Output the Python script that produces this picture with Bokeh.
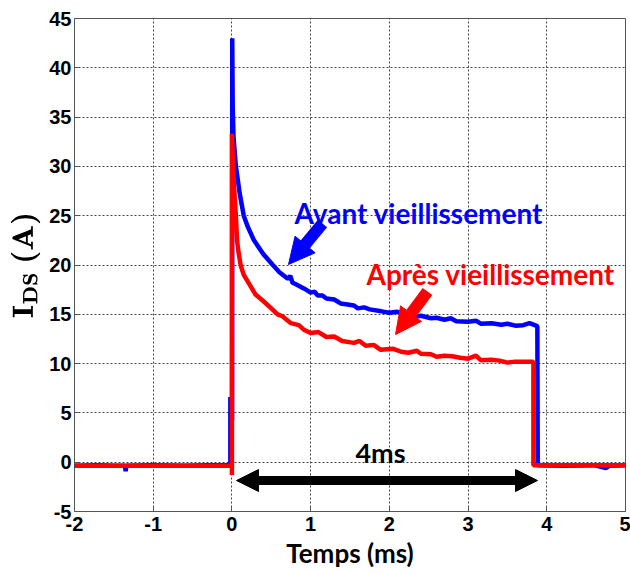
from bokeh.plotting import figure
from bokeh.models import Label, Arrow, NormalHead, FixedTicker
from bokeh.embed import file_html
from bokeh.resources import INLINE

# ---- data ----
x_ticks = [-2, -1, 0, 1, 2, 3, 4, 5]
y_ticks = [-5, 0, 5, 10, 15, 20, 25, 30, 35, 40, 45]

t_avant = [-2.0, -1.7, -1.5, -1.36, -1.35, -1.34, -1.0, -0.6, -0.3, -0.03, -0.02, -0.02, 0.002, 0.004,
           0.01, 0.02, 0.05, 0.1, 0.15, 0.2, 0.28, 0.4, 0.52, 0.6, 0.71, 0.74, 0.77, 0.8, 0.92, 1.0,
           1.05, 1.09, 1.15, 1.2, 1.3, 1.38, 1.47, 1.55, 1.6, 1.68, 1.75, 1.9, 2.0, 2.1, 2.2, 2.3,
           2.4, 2.53, 2.6, 2.7, 2.78, 2.85, 3.0, 3.1, 3.16, 3.3, 3.42, 3.5, 3.6, 3.7, 3.78, 3.88,
           3.885, 4.2, 4.6, 4.75, 4.8, 5.0]
i_avant = [-0.35, -0.3, -0.35, -0.35, -0.9, -0.35, -0.3, -0.35, -0.3, -0.3, -0.3, 6.6, 4.2, 43.0,
           36.0, 33.0, 30.0, 27.2, 25.0, 23.9, 22.5, 21.1, 20.0, 19.3, 18.6, 18.9, 18.2, 18.1, 17.6, 17.2,
           17.3, 16.9, 16.9, 16.6, 16.5, 16.1, 16.0, 15.9, 15.6, 15.7, 15.5, 15.3, 15.15, 15.25, 14.95, 14.7,
           14.85, 14.6, 14.65, 14.45, 14.6, 14.3, 14.25, 14.35, 14.05, 14.1, 13.95, 14.05, 13.85, 13.9, 14.1, 13.8,
           -0.3, -0.35, -0.3, -0.6, -0.35, -0.3]

t_apres = [-2.0, -1.0, -0.01, 0.0, 0.0, 0.0, 0.01, 0.02, 0.03, 0.05, 0.065, 0.08, 0.11, 0.15,
           0.24, 0.3, 0.39, 0.5, 0.58, 0.64, 0.75, 0.85, 0.92, 1.0, 1.1, 1.2, 1.3, 1.4, 1.55, 1.62,
           1.7, 1.8, 1.89, 2.05, 2.15, 2.24, 2.35, 2.4, 2.53, 2.6, 2.7, 2.8, 2.9, 3.0, 3.1, 3.16,
           3.3, 3.4, 3.5, 3.6, 3.7, 3.83, 3.83, 4.4, 5.0]
i_apres = [-0.35, -0.35, -0.35, -0.35, -1.3, 33.3, 31.0, 29.0, 27.5, 25.0, 22.5, 21.5, 20.0, 19.0,
           17.8, 17.0, 16.4, 15.6, 15.0, 14.8, 14.1, 13.9, 13.4, 13.1, 13.2, 12.7, 12.75, 12.3, 12.1, 12.3,
           11.8, 11.9, 11.4, 11.5, 11.2, 11.1, 11.3, 11.0, 10.95, 10.7, 10.8, 10.75, 10.6, 10.5, 10.8, 10.35,
           10.4, 10.3, 10.1, 10.2, 10.2, 10.2, -0.3, -0.3, -0.3]

label_avant = "Avant vieillissement"
label_apres = "Après vieillissement"
label_duree = "4ms"
x_label = "Temps (ms)"
y_label = r"$$\mathbf{I_{DS}\ (A)}$$"

# ---- layout ----
W, H = 630, 574
FL, FT, FW, FH = 74, 18, 551, 493
X0, X1, Y0, Y1 = -2, 5, -5, 45

def xd(px):  # page pixel -> data x
    return X0 + (px - FL) / FW * (X1 - X0)

def yd(py):  # page pixel -> data y
    return Y1 - (py - FT) / FH * (Y1 - Y0)

p = figure(width=W, height=H, x_range=(X0, X1), y_range=(Y0, Y1),
           output_backend="svg", toolbar_location=None,
           min_border_left=FL, min_border_right=W - FL - FW,
           min_border_top=FT, min_border_bottom=H - FT - FH)
p.background_fill_color = "white"
p.border_fill_color = "white"
p.outline_line_color = "#555555"
p.outline_line_width = 1

for ax in (p.xaxis[0], p.yaxis[0]):
    ax.axis_line_color = None
    ax.major_tick_in = 5
    ax.major_tick_out = 0
    ax.minor_tick_line_color = None
    ax.major_tick_line_color = "#555555"
    ax.major_label_text_font = "Liberation Sans"
    ax.major_label_text_font_style = "bold"
    ax.major_label_text_font_size = "20px"
    ax.major_label_text_color = "black"

p.xaxis[0].ticker = FixedTicker(ticks=x_ticks)
p.yaxis[0].ticker = FixedTicker(ticks=y_ticks)
p.xaxis[0].major_label_overrides = {v: str(v) for v in x_ticks}
p.yaxis[0].major_label_overrides = {v: str(v) for v in y_ticks}
p.xaxis[0].major_label_standoff = 5
p.yaxis[0].major_label_standoff = 3
p.xaxis[0].axis_label = x_label
p.xaxis[0].axis_label_text_font = "Lato"
p.xaxis[0].axis_label_text_font_style = "bold"
p.xaxis[0].axis_label_text_font_size = "26px"
p.xaxis[0].axis_label_text_color = "black"
p.xaxis[0].axis_label_standoff = 3

p.yaxis[0].axis_label = y_label
p.yaxis[0].axis_label_text_font = "Liberation Sans"
p.yaxis[0].axis_label_text_font_style = "bold"
p.yaxis[0].axis_label_text_font_size = "24px"
p.yaxis[0].axis_label_text_color = "black"
p.yaxis[0].axis_label_standoff = 6

for g in (p.xgrid[0], p.ygrid[0]):
    g.grid_line_color = "#444444"
    g.grid_line_dash = "2 2"
    g.grid_line_width = 1
p.xgrid[0].ticker = FixedTicker(ticks=x_ticks)
p.ygrid[0].ticker = FixedTicker(ticks=y_ticks)

p.line(t_avant, i_avant, line_color="#0000FF", line_width=4.5)
p.line(t_apres, i_apres, line_color="#FF0000", line_width=4.5)

# annotations
p.add_layout(Label(x=xd(294), y=yd(212), text=label_avant, text_font="Lato",
                   text_font_style="bold", text_font_size="28px", text_color="#0000FF",
                   text_baseline="alphabetic"))
p.add_layout(Label(x=xd(366), y=yd(273), text=label_apres, text_font="Lato",
                   text_font_style="bold", text_font_size="28px", text_color="#FF0000",
                   text_baseline="alphabetic"))
p.add_layout(Label(x=xd(380), y=yd(452), text=label_duree, text_font="Lato",
                   text_font_style="bold", text_font_size="27px", text_color="black",
                   text_align="center", text_baseline="alphabetic"))

p.add_layout(Arrow(end=NormalHead(size=26, fill_color="#0000FF", line_color="#0000FF"),
                   x_start=xd(322), y_start=yd(223), x_end=xd(288), y_end=yd(264),
                   line_color="#0000FF", line_width=12))
p.add_layout(Arrow(end=NormalHead(size=26, fill_color="#FF0000", line_color="#FF0000"),
                   x_start=xd(427), y_start=yd(291), x_end=xd(395), y_end=yd(334),
                   line_color="#FF0000", line_width=12))
p.add_layout(Arrow(start=NormalHead(size=22, fill_color="black", line_color="black"),
                   end=NormalHead(size=22, fill_color="black", line_color="black"),
                   x_start=xd(236), y_start=yd(480), x_end=xd(537), y_end=yd(480),
                   line_color="black", line_width=9))

open("out.html", "w").write(file_html(p, INLINE))
